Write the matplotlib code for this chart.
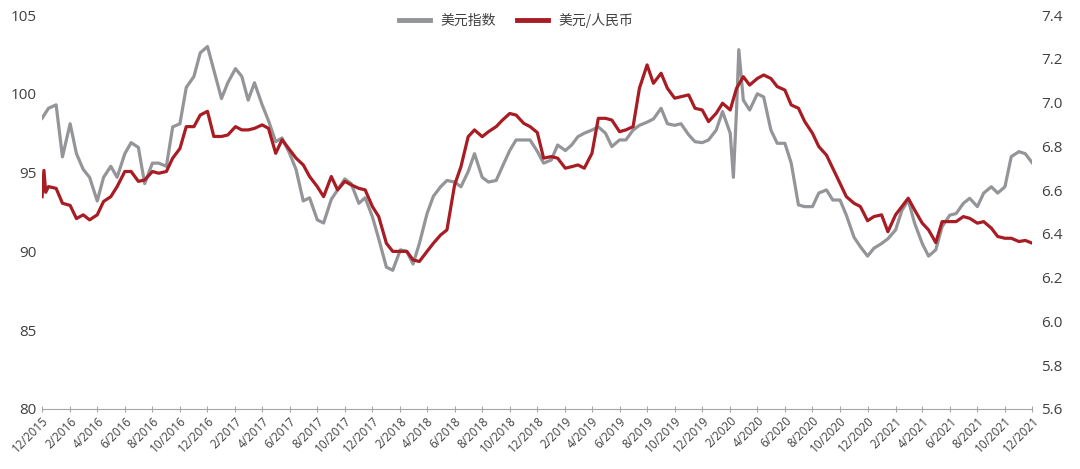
import pandas as pd
import matplotlib
matplotlib.use("Agg")
import matplotlib.pyplot as plt
import matplotlib.dates as mdates
from matplotlib.ticker import FuncFormatter

plt.rcParams['font.family'] = ['Open Sans', 'Noto Sans CJK SC', 'DejaVu Sans']

# semi-monthly readings, 2015-12-01 .. 2021-12-01
dates = pd.date_range('2015-12-01', '2021-12-01', freq='SMS')

dxy = [
    98.45, 99.08, 99.3, 96.0, 98.1, 96.2, 95.2, 94.7, 93.2, 94.7, 95.4, 94.7,
    96.2, 96.9, 96.6, 94.3, 95.6, 95.6, 95.4, 97.9, 98.1, 100.4, 101.1, 102.6,
    103.0, 101.5, 99.7, 100.7, 101.6, 101.1, 99.6, 100.7, 99.3, 98.3, 96.96, 97.2,
    96.2, 95.2, 93.2, 93.4, 92.0, 91.8, 93.3, 93.9, 94.6, 94.3, 93.05, 93.4,
    92.2, 90.8, 89.0, 88.8, 90.1, 90.0, 89.2, 90.5, 92.4, 93.5, 94.1, 94.5,
    94.4, 94.1, 95.06, 96.2, 94.7, 94.4, 94.5, 95.4, 96.4, 97.07, 97.07, 97.07,
    96.35, 95.6, 95.8, 96.75, 96.4, 96.75, 97.28, 97.5, 97.7, 97.9, 97.5, 96.65,
    97.07, 97.07, 97.7, 98.0, 98.2, 98.4, 99.08, 98.1, 98.0, 98.1, 97.4, 96.96,
    96.9, 97.07, 97.7, 98.87, 97.5, 99.0, 99.6, 98.97, 100.0, 99.8, 97.7, 96.86,
    96.86, 95.6, 92.95, 92.84, 92.84, 93.7, 93.9, 93.26, 93.26, 92.3, 90.9, 90.3,
    89.7, 90.2, 90.5, 90.8, 91.36, 92.6, 93.26, 91.8, 90.5, 89.7, 90.1, 91.57,
    92.3, 92.4, 93.05, 93.37, 92.84, 93.7, 94.1, 93.7, 94.1, 96.01, 96.33, 96.2,
    95.6,
]

usdcny = [
    6.57, 6.616, 6.608, 6.54, 6.53, 6.47, 6.487, 6.464, 6.487, 6.548, 6.57, 6.616,
    6.685, 6.685, 6.64, 6.646, 6.685, 6.677, 6.685, 6.746, 6.79, 6.89, 6.89, 6.943,
    6.96, 6.845, 6.845, 6.852, 6.89, 6.875, 6.875, 6.882, 6.898, 6.882, 6.768, 6.83,
    6.784, 6.746, 6.715, 6.662, 6.616, 6.57, 6.662, 6.601, 6.64, 6.624, 6.608, 6.601,
    6.525, 6.479, 6.357, 6.32, 6.32, 6.32, 6.281, 6.274, 6.32, 6.357, 6.395, 6.418,
    6.624, 6.707, 6.844, 6.875, 6.844, 6.867, 6.89, 6.92, 6.95, 6.943, 6.905, 6.89,
    6.863, 6.746, 6.753, 6.746, 6.70, 6.707, 6.715, 6.70, 6.768, 6.928, 6.928, 6.92,
    6.867, 6.875, 6.89, 7.065, 7.172, 7.088, 7.134, 7.065, 7.02, 7.027, 7.035, 6.974,
    6.966, 6.913, 6.951, 6.997, 6.966, 7.065, 7.118, 7.08, 7.11, 7.126, 7.11, 7.073,
    7.057, 6.989, 6.974, 6.913, 6.86, 6.799, 6.76, 6.70, 6.631, 6.57, 6.54, 6.525,
    6.46, 6.479, 6.487, 6.41, 6.487, 6.525, 6.563, 6.51, 6.449, 6.418, 6.36, 6.456,
    6.456, 6.456, 6.479, 6.471, 6.449, 6.456, 6.426, 6.388, 6.38, 6.38, 6.365, 6.37,
    6.357,
]

# short-lived spikes between the semi-monthly readings
dxy_extra_dates = ['2020-02-08', '2020-02-20']
dxy_extra = [94.7, 102.8]
cny_extra_dates = ['2015-12-05', '2015-12-09']
cny_extra = [6.69, 6.59]

s_dxy = pd.concat([pd.Series(dxy, index=dates),
                   pd.Series(dxy_extra, index=pd.to_datetime(dxy_extra_dates))]).sort_index()
s_cny = pd.concat([pd.Series(usdcny, index=dates),
                   pd.Series(cny_extra, index=pd.to_datetime(cny_extra_dates))]).sort_index()

GRAY = '#939598'
RED = '#A81C24'
TXT = '#404040'

fig = plt.figure(figsize=(10.8, 4.69), dpi=100)
ax = fig.add_axes([0.039, 0.128, 0.917, 0.84])
ax2 = ax.twinx()

l1, = ax.plot(s_dxy.index, s_dxy.values, color=GRAY, lw=2.3, label='美元指数')
l2, = ax2.plot(s_cny.index, s_cny.values, color=RED, lw=2.3, label='美元/人民币')
ax.set_zorder(ax2.get_zorder() - 1)
ax2.patch.set_visible(False)

ax.set_ylim(80, 105)
ax.set_yticks([80, 85, 90, 95, 100, 105])
ax2.set_ylim(5.6, 7.4)
ax2.set_yticks([5.6, 5.8, 6.0, 6.2, 6.4, 6.6, 6.8, 7.0, 7.2, 7.4])
ax2.yaxis.set_major_formatter(FuncFormatter(lambda v, p: f"{v:.1f}"))

ax.set_xlim(pd.Timestamp('2015-12-01'), pd.Timestamp('2021-12-01'))
ax.xaxis.set_major_locator(mdates.MonthLocator(bymonth=[2, 4, 6, 8, 10, 12]))
ax.xaxis.set_major_formatter(FuncFormatter(
    lambda v, p: f"{mdates.num2date(v).month}/{mdates.num2date(v).year}"))

for a in (ax, ax2):
    for s in ('top', 'left', 'right', 'bottom'):
        a.spines[s].set_visible(False)

ax.spines['bottom'].set_visible(True)
ax.spines['bottom'].set_color('#A6A6A6')
ax.spines['bottom'].set_linewidth(0.8)
ax.spines['bottom'].set_linestyle((0, (1, 1)))

ax.tick_params(axis='y', length=0, labelsize=11, labelcolor=TXT, pad=4)
ax2.tick_params(axis='y', length=0, labelsize=11, labelcolor=TXT, pad=6)
ax.tick_params(axis='x', length=4, width=0.8, color='#A6A6A6', direction='inout',
               labelsize=8.5, labelcolor=TXT, pad=2)
for lab in ax.get_xticklabels():
    lab.set_rotation(45)
    lab.set_ha('right')
    lab.set_rotation_mode('anchor')

leg = fig.legend(handles=[l1, l2], loc='upper center', bbox_to_anchor=(0.478, 1.0),
                 ncol=2, frameon=False, handlelength=2.2,
                 columnspacing=1.5, handletextpad=0.8,
                 prop={'family': ['Noto Sans CJK SC'], 'size': 10})
for t in leg.get_texts():
    t.set_color(TXT)
for h in leg.legend_handles:
    h.set_linewidth(3.5)

fig.savefig('out.png', dpi=100)
